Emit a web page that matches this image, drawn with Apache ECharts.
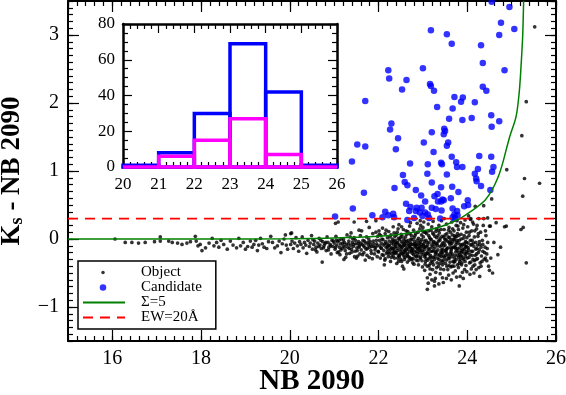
<!DOCTYPE html>
<html>
<head>
<meta charset="UTF-8">
<title>Ks - NB2090 colour-magnitude</title>
<script src="https://cdn.jsdelivr.net/npm/echarts@6/dist/echarts.min.js"></script>
<style>html,body{margin:0;padding:0;background:#fff}</style>
</head>
<body>
<div id="main" style="width:566px;height:395px"></div>
<script>
// objects (black dots)
var objBright = [[16.06,0.00],[16.29,-0.05],[16.44,-0.05],[16.59,-0.06],[16.74,-0.05],[16.95,-0.04],[17.08,0.03],[17.08,-0.03],[17.27,-0.03],[17.35,-0.05],[17.47,-0.06],[17.57,-0.08],[17.68,-0.06],[17.76,-0.04],[17.87,0.04],[17.89,-0.03],[17.93,-0.10],[17.98,-0.08],[18.02,-0.17],[18.10,-0.13],[18.18,-0.06],[18.25,0.01],[18.29,-0.10],[18.35,-0.05],[18.40,-0.12],[18.45,-0.02],[18.51,-0.08],[18.59,-0.15],[18.66,-0.03],[18.72,-0.09],[18.80,-0.13],[18.85,0.01],[18.89,-0.10],[18.95,-0.05],[19.00,-0.15],[19.05,-0.11],[19.11,-0.03],[19.15,-0.12],[19.19,-0.08],[19.23,-0.02],[19.27,-0.17],[19.30,-0.09],[19.34,0.01],[19.38,-0.07],[19.42,-0.12],[19.48,-0.14],[19.52,-0.04],[19.57,0.04],[19.61,-0.05],[19.66,-0.13],[19.72,-0.10],[19.76,-0.03],[19.80,-0.20],[19.83,-0.07],[19.87,0.00],[19.90,0.06],[19.92,-0.09],[19.95,-0.15]];
var objMid = [[20.02,0.08],[20.02,-0.08],[20.05,-0.03],[20.08,-0.14],[20.11,-0.06],[20.14,0.02],[20.17,-0.10],[20.20,-0.18],[20.22,-0.04],[20.25,-0.08],[20.28,0.03],[20.30,-0.13],[20.33,-0.05],[20.36,-0.09],[20.38,-0.21],[20.41,-0.02],[20.44,-0.11],[20.46,-0.06],[20.49,0.05],[20.51,-0.15],[20.54,-0.08],[20.56,-0.03],[20.59,-0.12],[20.61,-0.19],[20.63,-0.06],[20.66,0.01],[20.68,-0.09],[20.71,-0.14],[20.73,-0.34],[20.74,-0.04],[20.77,-0.10],[20.79,-0.07],[20.82,-0.17],[20.84,0.03],[20.86,-0.05],[20.88,-0.12],[20.91,-0.08],[20.93,-0.22],[20.95,-0.02],[20.97,-0.11],[21.00,-0.06],[21.02,-0.15],[21.04,0.04],[21.06,-0.09],[21.08,-0.04],[21.10,-0.19],[21.12,-0.12],[21.14,-0.07],[21.16,0.00],[21.18,-0.14],[21.20,-0.10],[21.22,-0.30],[21.23,-0.05],[21.25,-0.17],[21.27,-0.08],[21.29,0.06],[21.31,-0.12],[21.33,-0.03],[21.35,-0.21],[21.37,-0.09],[21.39,-0.15],[21.41,-0.05],[21.43,-0.11],[21.45,0.02],[21.47,-0.18],[21.49,-0.07],[21.51,-0.13],[21.53,-0.25],[21.55,-0.04],[21.57,-0.10],[21.59,0.05],[21.61,-0.16],[21.63,-0.08],[21.65,-0.02],[21.67,-0.20],[21.69,-0.12],[21.71,-0.06],[21.73,0.03],[21.75,-0.14],[21.77,-0.09],[21.79,-0.27],[21.81,-0.04],[21.83,-0.17],[21.85,-0.11],[21.87,0.08],[21.89,-0.07],[21.91,-0.22],[21.93,-0.13],[21.95,-0.02],[21.97,-0.10],[21.99,-0.18],[20.52,-0.01],[20.58,-0.16],[20.65,-0.11],[20.70,-0.02],[20.76,-0.13],[20.81,-0.05],[20.87,-0.16],[20.92,-0.10],[20.98,-0.03],[21.03,-0.12],[21.07,-0.20],[21.11,-0.02],[21.15,-0.16],[21.19,-0.06],[21.24,-0.12],[21.28,-0.22],[21.32,-0.07],[21.36,0.03],[21.40,-0.19],[21.44,-0.08],[21.48,-0.02],[21.52,-0.17],[21.56,-0.12],[21.60,-0.06],[21.64,-0.23],[21.68,-0.03],[21.72,-0.15],[21.76,-0.05],[21.80,-0.12],[21.84,-0.21],[21.88,-0.03],[21.92,-0.16],[21.96,-0.07],[21.98,0.04],[21.62,0.12],[21.38,0.09],[21.70,-0.31],[21.86,-0.29],[21.94,0.10],[21.50,-0.28],[21.03,0.23],[21.09,0.25],[21.45,0.25],[21.73,0.26],[21.94,0.27],[20.04,0.09],[21.56,0.13],[21.79,0.17],[21.05,-0.02],[21.13,-0.23],[21.21,-0.01],[21.26,-0.27],[21.34,-0.14],[21.42,0.00],[21.46,-0.26],[21.54,-0.07],[21.58,-0.22],[21.66,-0.10],[21.74,-0.24],[21.78,0.00],[21.82,-0.08],[21.90,-0.11],[21.97,-0.26]];
var objFaint = [[22.01,0.12],[22.02,-0.02],[22.03,-0.10],[22.00,-0.19],[22.04,-0.28],[22.05,0.05],[22.06,-0.06],[22.07,-0.14],[22.08,-0.23],[22.09,0.16],[22.10,-0.01],[22.11,-0.09],[22.12,-0.17],[22.13,-0.38],[22.14,-0.31],[22.15,0.08],[22.16,-0.04],[22.17,-0.12],[22.18,-0.21],[22.19,-0.07],[22.20,0.02],[22.21,-0.15],[22.22,-0.26],[22.23,0.11],[22.24,-0.03],[22.25,-0.10],[22.26,-0.19],[22.27,-0.33],[22.28,0.06],[22.29,-0.06],[22.30,-0.13],[22.31,-0.22],[22.32,0.00],[22.33,0.18],[22.34,-0.08],[22.35,-0.16],[22.36,-0.28],[22.37,0.04],[22.38,-0.02],[22.39,-0.11],[22.40,-0.20],[22.41,-0.36],[22.42,0.10],[22.43,-0.05],[22.44,-0.14],[22.45,-0.24],[22.46,0.21],[22.47,-0.01],[22.48,-0.09],[22.49,-0.18],[22.50,-0.30],[22.51,0.07],[22.52,-0.04],[22.53,-0.12],[22.54,-0.40],[22.55,-0.22],[22.56,0.14],[22.57,0.00],[22.58,-0.08],[22.59,-0.16],[22.60,-0.27],[22.61,0.03],[22.62,-0.06],[22.63,-0.14],[22.64,-0.24],[22.65,-0.34],[22.66,0.11],[22.67,-0.02],[22.68,-0.10],[22.69,-0.19],[22.70,0.19],[22.71,-0.05],[22.72,-0.13],[22.73,-0.29],[22.74,0.05],[22.75,-0.01],[22.76,-0.21],[22.77,-0.08],[22.78,-0.16],[22.79,0.13],[22.80,-0.37],[22.81,-0.03],[22.82,-0.11],[22.83,-0.25],[22.84,0.08],[22.85,-0.06],[22.86,-0.18],[22.87,0.23],[22.88,-0.14],[22.89,-0.32],[22.90,0.01],[22.91,-0.09],[22.92,-0.20],[22.93,0.15],[22.94,-0.04],[22.95,-0.27],[22.96,-0.12],[22.97,0.06],[22.98,-0.17],[22.99,-0.41],[22.02,0.07],[22.05,-0.13],[22.08,0.00],[22.11,-0.24],[22.14,-0.07],[22.17,0.13],[22.20,-0.19],[22.23,-0.09],[22.26,0.03],[22.29,-0.27],[22.32,-0.14],[22.35,0.09],[22.38,-0.21],[22.41,-0.06],[22.44,0.15],[22.47,-0.26],[22.50,-0.11],[22.53,0.04],[22.56,-0.19],[22.59,-0.03],[22.62,0.12],[22.65,-0.22],[22.68,-0.07],[22.71,0.08],[22.74,-0.17],[22.77,-0.35],[22.80,0.02],[22.83,-0.09],[22.86,-0.26],[22.89,0.10],[22.92,-0.06],[22.95,0.20],[22.98,-0.23],[22.15,-0.29],[22.45,-0.33],[22.75,-0.30],[22.57,-0.44],[22.90,-0.38],[22.35,-0.04],[22.61,-0.10],[22.85,-0.13],[22.97,-0.01],[22.52,0.18],[22.72,0.24],[22.94,0.27],[22.31,-0.03],[22.34,-0.19],[22.37,-0.12],[22.40,0.06],[22.43,-0.28],[22.46,-0.09],[22.49,0.02],[22.52,-0.21],[22.55,-0.06],[22.58,-0.30],[22.61,-0.17],[22.64,0.07],[22.67,-0.26],[22.70,-0.11],[22.73,0.00],[22.76,-0.14],[22.79,-0.23],[22.82,0.05],[22.85,-0.31],[22.88,-0.02],[22.91,-0.15],[22.94,-0.29],[22.97,-0.08],[22.33,-0.25],[22.39,-0.07],[22.45,0.01],[22.51,-0.15],[22.57,-0.25],[22.63,-0.03],[22.69,-0.31],[22.75,-0.18],[22.81,-0.07],[22.87,-0.21],[22.93,-0.12],[22.99,0.12]];
var objFainter = [[23.00,0.17],[23.01,0.03],[23.02,-0.07],[23.03,-0.16],[23.04,-0.26],[23.05,-0.37],[23.06,0.10],[23.07,-0.02],[23.08,-0.11],[23.09,-0.21],[23.10,-0.57],[23.10,-0.74],[23.11,-0.31],[23.12,0.22],[23.13,0.05],[23.14,-0.05],[23.15,-0.14],[23.16,-0.44],[23.17,-0.24],[23.18,0.13],[23.19,-0.01],[23.20,-0.60],[23.20,-0.09],[23.21,-0.18],[23.22,-0.34],[23.23,0.26],[23.24,0.07],[23.25,-0.04],[23.26,-0.62],[23.26,-0.69],[23.27,-0.13],[23.28,-0.22],[23.29,-0.49],[23.30,0.15],[23.31,0.02],[23.32,-0.07],[23.33,-0.28],[23.34,-0.16],[23.35,-0.40],[23.36,0.20],[23.37,0.09],[23.38,-0.02],[23.39,-0.51],[23.39,-0.11],[23.40,-0.20],[23.41,-0.32],[23.42,0.27],[23.43,0.04],[23.44,-0.57],[23.44,-0.06],[23.45,-0.15],[23.46,-0.25],[23.47,-0.45],[23.48,0.14],[23.49,0.00],[23.50,-0.09],[23.51,-0.36],[23.52,-0.19],[23.53,0.22],[23.54,0.08],[23.55,-0.03],[23.56,-0.13],[23.57,-0.29],[23.58,-0.53],[23.59,0.17],[23.60,0.02],[23.61,-0.08],[23.62,-0.22],[23.63,-0.41],[23.64,-0.16],[23.65,0.25],[23.66,0.06],[23.67,-0.04],[23.68,-0.33],[23.69,-0.12],[23.70,0.12],[23.71,-0.01],[23.72,-0.24],[23.73,-0.47],[23.74,-0.09],[23.75,0.20],[23.76,0.04],[23.77,-0.17],[23.78,-0.38],[23.79,-0.06],[23.80,0.14],[23.81,-0.27],[23.82,-0.69],[23.82,-0.02],[23.83,-0.13],[23.84,-0.55],[23.85,0.24],[23.86,0.07],[23.87,-0.20],[23.88,-0.35],[23.89,-0.08],[23.90,0.16],[23.91,0.01],[23.92,-0.30],[23.93,-0.15],[23.94,-0.45],[23.95,0.28],[23.96,-0.04],[23.97,-0.22],[23.98,0.10],[23.99,-0.11],[23.02,0.25],[23.05,-0.12],[23.08,0.08],[23.11,-0.19],[23.14,-0.39],[23.17,0.00],[23.20,0.18],[23.23,-0.27],[23.26,-0.08],[23.29,0.11],[23.32,-0.35],[23.35,-0.03],[23.38,-0.24],[23.41,0.14],[23.44,-0.38],[23.47,-0.10],[23.50,0.06],[23.53,-0.31],[23.56,-0.45],[23.59,-0.05],[23.62,0.10],[23.65,-0.26],[23.68,-0.50],[23.71,0.05],[23.74,-0.19],[23.77,0.27],[23.80,-0.42],[23.83,-0.23],[23.86,0.00],[23.89,-0.49],[23.92,0.21],[23.95,-0.33],[23.98,-0.18],[23.04,-0.46],[23.16,-0.52],[23.28,-0.58],[23.46,-0.64],[23.53,-0.58],[23.64,-0.60],[23.76,-0.56],[23.91,-0.58],[23.36,-0.66],[23.12,-0.65],[23.70,-0.40],[23.87,-0.10],[23.22,0.09],[23.48,0.30],[23.58,0.13],[23.79,0.19],[23.66,-0.13],[23.03,-0.03],[23.07,-0.29],[23.13,-0.22],[23.19,-0.32],[23.24,-0.17],[23.31,-0.42],[23.34,0.05],[23.40,-0.44],[23.43,-0.21],[23.49,-0.27],[23.52,-0.01],[23.55,-0.22],[23.61,-0.34],[23.63,-0.01],[23.67,0.15],[23.72,-0.33],[23.75,-0.05],[23.78,-0.14],[23.81,0.05],[23.84,-0.30],[23.88,-0.25],[23.93,-0.07],[23.97,-0.39],[23.99,0.02],[23.00,-0.20],[23.03,0.10],[23.06,-0.33],[23.09,-0.05],[23.12,-0.15],[23.15,0.02],[23.18,-0.27],[23.21,-0.12],[23.24,-0.38],[23.27,0.04],[23.30,-0.18],[23.33,-0.10],[23.36,-0.30],[23.39,0.01],[23.42,-0.16],[23.45,-0.34],[23.48,-0.05],[23.51,-0.24],[23.54,-0.14],[23.57,0.03],[23.60,-0.28],[23.63,-0.19],[23.66,-0.40],[23.69,0.00],[23.72,-0.12],[23.75,-0.30],[23.78,0.08],[23.81,-0.20],[23.84,-0.08],[23.87,-0.38],[23.90,-0.15],[23.93,0.05],[23.96,-0.26],[23.99,-0.48],[23.05,-0.24],[23.11,-0.09],[23.17,-0.36],[23.23,-0.05],[23.29,-0.20],[23.35,0.13],[23.41,-0.26],[23.47,0.03],[23.53,-0.16],[23.59,-0.39],[23.65,-0.07],[23.71,-0.28],[23.77,-0.02],[23.83,-0.33],[23.89,-0.18],[23.95,-0.10]];
var objCore = [[22.52,-0.33],[22.56,-0.10],[22.60,-0.20],[22.66,-0.15],[22.70,-0.27],[22.74,-0.08],[22.78,-0.29],[22.82,-0.19],[22.86,-0.09],[22.90,-0.25],[22.94,-0.17],[22.98,-0.32],[23.02,-0.12],[23.06,-0.22],[23.10,-0.40],[23.14,-0.28],[23.18,-0.18],[23.22,-0.45],[23.26,-0.30],[23.30,-0.06],[23.34,-0.23],[23.38,-0.36],[23.42,-0.09],[23.46,-0.31],[23.50,-0.17],[23.54,-0.40],[23.58,-0.25],[23.62,-0.13],[23.66,-0.22],[23.70,-0.34],[23.74,-0.14],[23.78,-0.24],[23.82,-0.36],[23.86,-0.17],[23.90,-0.28],[23.94,-0.21],[23.98,-0.05],[24.04,-0.27],[24.09,-0.18],[24.16,-0.32],[24.21,-0.22],[24.27,-0.04],[24.33,-0.33],[24.39,-0.20],[22.20,-0.11],[22.27,-0.15],[22.42,-0.17],[22.48,-0.23],[22.36,-0.20],[22.24,-0.22],[23.01,-0.09],[23.13,0.12],[23.27,-0.26],[23.44,-0.19],[23.61,-0.05],[23.73,0.03],[23.85,-0.25],[23.97,-0.12],[24.10,-0.08],[24.22,0.20]];
var objEdge = [[24.00,-0.28],[24.01,0.18],[24.02,-0.06],[24.03,-0.16],[24.04,0.05],[24.05,-0.35],[24.06,-0.23],[24.07,0.29],[24.08,-0.09],[24.09,-0.44],[24.10,0.12],[24.11,-0.02],[24.12,-0.18],[24.13,-0.30],[24.14,0.22],[24.15,-0.11],[24.16,0.03],[24.17,-0.38],[24.18,0.48],[24.18,-0.24],[24.19,-0.05],[24.20,-0.45],[24.21,0.15],[24.22,-0.14],[24.23,-0.29],[24.24,0.04],[24.25,-0.20],[24.26,0.30],[24.27,-0.16],[24.28,-0.08],[24.29,-0.35],[24.30,0.10],[24.32,-0.25],[24.34,-0.02],[24.35,-0.08],[24.35,-0.18],[24.37,0.30],[24.37,0.49],[24.38,-0.30],[24.40,-0.12],[24.42,0.05],[24.44,-0.22],[24.46,0.31],[24.48,-0.40],[24.50,0.19],[24.50,-0.46],[24.52,0.19],[24.55,0.59],[24.57,-0.50],[24.60,-0.05],[24.65,0.24],[24.69,-0.23],[24.75,-0.12],[24.84,0.18],[24.88,0.19],[24.89,1.02],[25.21,0.14],[25.26,0.17],[25.25,0.63],[25.29,0.89],[25.33,-0.35],[25.63,0.82],[25.23,1.52],[25.33,2.02],[25.52,3.12],[24.08,0.30],[24.12,0.25],[24.03,0.34],[24.31,-0.40],[24.44,-0.32],[24.06,-0.52],[24.15,-0.50],[24.28,-0.55],[24.41,0.12],[24.46,-0.05],[24.53,-0.28],[24.02,-0.13],[24.05,0.10],[24.08,-0.34],[24.11,-0.24],[24.14,-0.06],[24.17,0.12],[24.20,-0.30],[24.23,-0.09],[24.26,-0.42],[24.01,-0.20],[24.07,-0.02],[24.13,-0.40],[24.19,-0.15],[24.25,0.08],[24.31,-0.12],[24.36,0.20],[24.41,-0.28],[24.45,-0.14]];
// candidates (blue dots)
var candidates = [[23.18,3.07],[23.54,3.01],[23.65,2.87],[24.31,2.85],[24.35,2.59],[24.76,3.18],[24.72,3.00],[25.06,3.09],[24.95,3.41],[24.55,3.49],[24.84,2.48],[22.22,2.48],[22.24,2.36],[22.63,2.34],[22.53,2.20],[23.00,2.51],[23.16,2.28],[23.18,2.25],[23.25,2.18],[21.70,2.03],[23.32,1.94],[23.71,2.09],[23.90,2.08],[23.86,2.02],[23.67,1.92],[24.17,2.01],[24.35,2.24],[24.43,2.18],[22.29,1.70],[22.26,1.61],[23.59,1.77],[23.89,1.75],[24.10,1.78],[24.54,1.82],[24.55,1.65],[24.72,1.73],[23.48,1.62],[23.50,1.59],[23.20,1.57],[23.47,1.54],[22.44,1.48],[23.02,1.42],[23.57,1.42],[23.54,1.37],[21.52,1.39],[21.70,1.36],[22.39,1.32],[23.24,1.28],[23.65,1.21],[24.27,1.22],[24.54,1.21],[21.40,1.14],[22.71,1.11],[23.11,1.10],[23.41,1.12],[23.43,1.10],[23.75,1.13],[23.77,1.06],[23.89,1.06],[24.59,1.06],[24.24,1.03],[24.56,0.99],[24.17,0.96],[23.10,0.96],[23.54,0.95],[22.55,0.94],[24.20,0.89],[24.21,0.85],[23.20,0.83],[22.59,0.84],[22.65,0.79],[22.36,0.75],[23.41,0.76],[23.66,0.77],[24.31,0.78],[24.52,0.72],[21.67,0.68],[22.84,0.72],[23.80,0.69],[22.96,0.64],[23.26,0.63],[23.33,0.66],[23.44,0.58],[23.63,0.60],[23.05,0.55],[23.34,0.55],[23.41,0.55],[23.47,0.57],[24.01,0.57],[21.42,0.45],[22.62,0.52],[22.72,0.47],[22.86,0.46],[22.97,0.46],[23.20,0.46],[23.29,0.44],[23.67,0.45],[23.93,0.48],[24.02,0.50],[23.77,0.41],[22.69,0.41],[22.84,0.41],[22.93,0.39],[23.05,0.39],[23.11,0.36],[23.42,0.42],[22.15,0.40],[22.33,0.37],[22.22,0.35],[21.86,0.35],[22.09,0.32],[22.35,0.32],[21.02,0.33],[22.99,0.34],[23.71,0.36],[23.78,0.35],[23.14,0.31],[23.39,0.30],[23.67,0.32],[23.72,0.30],[22.65,0.28],[22.80,0.31]];
// sigma = 5 curve
var sigmaMag = [15, 18, 20, 21, 22, 22.5, 23, 23.4, 23.8, 24.0, 24.2, 24.4, 24.55, 24.7, 24.8, 24.95, 25.1, 25.17, 25.21, 25.25, 25.27];
var sigmaCol = [0, 0, 0.005, 0.015, 0.04, 0.07, 0.12, 0.18, 0.29, 0.37, 0.46, 0.57, 0.71, 0.92, 1.12, 1.49, 1.8, 2.15, 2.52, 3.0, 3.5];
var ewCut = 0.3;
// inset histogram
var histEdges = [20, 21, 22, 23, 24, 25, 26];
var histAll = [1, 8, 30, 69, 42, 1];
var histSub = [0, 6, 15, 27, 7, 0];

var font = 'Liberation Serif';
var clear = 'rgba(0,0,0,0)';
var myChart = echarts.init(document.getElementById('main'));

function minus(v) { return v < 0 ? '\u2212' + (-v) : '' + v; }

// fresh objects every time, and one x/y axis pair per grid: several axes in one grid lose their ticks
function axLine(w) { return { show: true, onZero: false, lineStyle: { color: '#000', width: w } }; }
function noLine() { return { show: false, onZero: false }; }
function axTick(len) { return { show: true, inside: true, length: len, lineStyle: { color: '#000', width: 1.2 } }; }
function minor(n) { return { show: true, splitNumber: n, length: 5, lineStyle: { color: '#000', width: 1.2 } }; }

function ax(extra) {
    var base = {
        type: 'value',
        splitLine: { show: false },
        axisLine: noLine(),
        axisTick: axTick(5),
        axisLabel: { show: false }
    };
    for (var k in extra) base[k] = extra[k];
    return base;
}
function mainGrid() { return { left: 68, top: 1, width: 488, height: 340, outerBoundsMode: 'none' }; }
function insetGrid() { return { left: 123, top: 24, width: 214, height: 143, outerBoundsMode: 'none' }; }

function bars(counts) {
    var d = [];
    for (var i = 0; i < counts.length; i++) d.push([histEdges[i], histEdges[i + 1], counts[i]]);
    return d;
}
function histRender(color) {
    return function (params, api) {
        var p0 = api.coord([api.value(0), api.value(2)]);
        var p1 = api.coord([api.value(1), 0]);
        return {
            type: 'rect',
            shape: { x: p0[0], y: p0[1], width: p1[0] - p0[0], height: p1[1] - p0[1] },
            style: { fill: 'none', stroke: color, lineWidth: 3.5 }
        };
    };
}

var sigmaLine = sigmaMag.map(function (m, i) { return [m, sigmaCol[i]]; });

// legend: one framed legend with text and line icons, dots laid over it
function dotLegend(name, size, top) {
    return {
        data: [name], z: 10, orient: 'vertical', left: 103 - size / 2 - 4, top: top,
        itemWidth: size, itemHeight: size, itemGap: 0, padding: [4, 0, 4, 4], borderWidth: 0,
        selectedMode: false,
        textStyle: { color: clear, fontFamily: font, fontSize: 15, lineHeight: 15 }
    };
}

var ig = insetGrid();
ig.show = true; ig.backgroundColor = '#fff'; ig.borderWidth = 0;

var option = {
    animation: false,
    backgroundColor: '#fff',
    // 0 main bottom/left, 1 main top/right, 2 minor bottom/left, 3 minor top/right, 4 inset bottom/left, 5 inset top/right
    grid: [mainGrid(), mainGrid(), mainGrid(), mainGrid(), ig, insetGrid()],
    xAxis: [
        ax({ gridIndex: 0, min: 15, max: 26, position: 'bottom', axisLine: axLine(2), axisTick: axTick(11),
             axisLabel: { show: true, showMinLabel: false, margin: 8, color: '#000', fontFamily: font, fontSize: 20 },
             name: 'NB 2090', nameLocation: 'middle', nameGap: 26, nameMoveOverlap: false,
             nameTextStyle: { color: '#000', fontFamily: font, fontSize: 29, fontWeight: 'bold' } }),
        ax({ gridIndex: 1, min: 15, max: 26, position: 'top', axisLine: axLine(2), axisTick: axTick(11) }),
        ax({ gridIndex: 2, min: 15, max: 26, interval: 0.2, position: 'bottom' }),
        ax({ gridIndex: 3, min: 15, max: 26, interval: 0.2, position: 'top' }),
        ax({ gridIndex: 4, min: 20, max: 26, interval: 1, position: 'bottom', axisLine: axLine(2.5), axisTick: axTick(9),
             minorTick: minor(5),
             axisLabel: { show: true, margin: 9, color: '#000', fontFamily: font, fontSize: 17 } }),
        ax({ gridIndex: 5, min: 20, max: 26, interval: 1, position: 'top', axisLine: axLine(2.5), axisTick: axTick(9),
             minorTick: minor(5) })
    ],
    yAxis: [
        ax({ gridIndex: 0, min: -1.5, max: 3.5, position: 'left', axisLine: axLine(2), axisTick: axTick(11),
             axisLabel: { show: true, showMinLabel: false, showMaxLabel: false, margin: 9,
                          color: '#000', fontFamily: font, fontSize: 20, formatter: minus },
             name: '{k|K}{s|s}{k| - NB 2090}', nameLocation: 'middle', nameGap: 42, nameRotate: 90, nameMoveOverlap: false,
             nameTextStyle: { color: '#000', fontFamily: font, fontSize: 27, fontWeight: 'bold',
                 rich: {
                     k: { color: '#000', fontFamily: font, fontSize: 27, fontWeight: 'bold' },
                     s: { color: '#000', fontFamily: font, fontSize: 18, fontWeight: 'bold', verticalAlign: 'bottom', padding: [10, 0, 0, 0] }
                 } } }),
        ax({ gridIndex: 1, min: -1.5, max: 3.5, position: 'right', axisLine: axLine(2), axisTick: axTick(11) }),
        ax({ gridIndex: 2, min: -1.5, max: 3.5, interval: 0.1, position: 'left' }),
        ax({ gridIndex: 3, min: -1.5, max: 3.5, interval: 0.1, position: 'right' }),
        ax({ gridIndex: 4, min: 0, max: 80, interval: 20, position: 'left', axisLine: axLine(2.5), axisTick: axTick(9),
             minorTick: minor(4),
             axisLabel: { show: true, margin: 8, color: '#000', fontFamily: font, fontSize: 17 } }),
        ax({ gridIndex: 5, min: 0, max: 80, interval: 20, position: 'right', axisLine: axLine(2.5), axisTick: axTick(9),
             minorTick: minor(4) })
    ],
    legend: [
        {
            data: [
                { name: 'Object', itemStyle: { color: clear, borderWidth: 0 } },
                { name: 'Candidate', itemStyle: { color: clear, borderWidth: 0 } },
                { name: '\u03a3=5', itemStyle: { color: clear, borderWidth: 0 } },
                { name: 'EW=20\u00c5', itemStyle: { color: clear, borderWidth: 0 } }
            ],
            orient: 'vertical', left: 78, top: 261, itemWidth: 42, itemHeight: 6, itemGap: 0,
            padding: [4, 14, 4, 4], borderColor: '#000', borderWidth: 1.5, backgroundColor: '#fff',
            selectedMode: false,
            textStyle: { color: '#000', fontFamily: font, fontSize: 15, lineHeight: 15, padding: [0, 0, 0, 11] }
        },
        dotLegend('Object', 3.5, 261),
        dotLegend('Candidate', 6.5, 276)
    ],
    series: [
        { name: 'Object', type: 'scatter', xAxisIndex: 0, yAxisIndex: 0, symbolSize: 3.7,
          itemStyle: { color: '#000' }, silent: true,
          data: objBright.concat(objMid, objFaint, objFainter, objCore, objEdge) },
        { name: 'Candidate', type: 'scatter', xAxisIndex: 0, yAxisIndex: 0, symbolSize: 6.5,
          itemStyle: { color: '#0000ff' }, silent: true, data: candidates },
        { name: '\u03a3=5', type: 'line', xAxisIndex: 0, yAxisIndex: 0, symbol: 'none', smooth: 0.3,
          lineStyle: { color: '#008000', width: 1.5 }, itemStyle: { color: '#008000' }, silent: true, data: sigmaLine },
        { name: 'EW=20\u00c5', type: 'line', xAxisIndex: 0, yAxisIndex: 0, symbol: 'none',
          lineStyle: { color: '#ff0000', width: 1.8, type: [10, 7] }, itemStyle: { color: '#ff0000' }, silent: true,
          data: [[15, ewCut], [26, ewCut]] },
        { type: 'custom', xAxisIndex: 4, yAxisIndex: 4, renderItem: histRender('#0000ff'),
          encode: { x: [0, 1], y: 2 }, silent: true, data: bars(histAll) },
        { type: 'custom', xAxisIndex: 4, yAxisIndex: 4, renderItem: histRender('#ff00ff'),
          encode: { x: [0, 1], y: 2 }, silent: true, data: bars(histSub) }
    ]
};
myChart.setOption(option);
</script>
</body>
</html>
